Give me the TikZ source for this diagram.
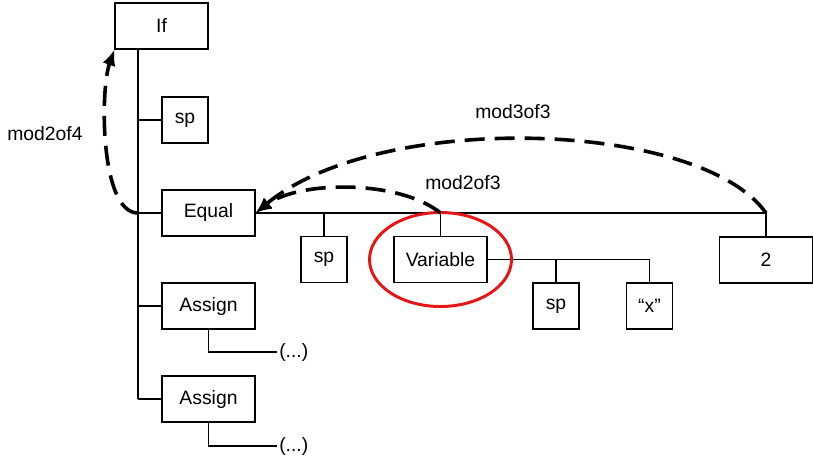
\documentclass[tikz,border=0pt]{standalone}
\usepackage{fontspec}
\setmainfont{Liberation Sans}
\usepackage{tikz}
\usepackage{xcolor}
\usetikzlibrary{arrows.meta,calc}
\definecolor{markred}{RGB}{230,20,20}

\tikzset{
  bigbox/.style={draw,line width=0.8pt,inner sep=0pt,minimum width=69.75pt,minimum height=34.5pt},
  smallbox/.style={draw,line width=0.8pt,inner sep=0pt,minimum width=34.5pt,minimum height=34.5pt},
  treeline/.style={line width=1.3pt},
  modarrow/.style={line width=2.7pt,dash pattern=on 15pt off 7.5pt,-{Latex[length=12pt,width=10pt]}},
  dots/.style={anchor=west,inner sep=1.5pt}
}

\begin{document}
\begin{tikzpicture}[x=0.75pt,y=-0.75pt,font=\fontsize{14.5}{17}\selectfont]
    \useasboundingbox (0,0) rectangle (813,456);

    % Nodes of the tree
    \node[bigbox] (ifnode) at (161.5,26) {If};
    \node[smallbox] (sp1) at (185,120) {sp};
    \node[bigbox] (equal) at (208.5,213) {Equal};
    \node[bigbox] (assign1) at (208.5,306) {Assign};
    \node[bigbox] (assign2) at (208.5,399) {Assign};
    \node[smallbox] (sp2) at (324,259.5) {sp};
    \node[bigbox] (variable) at (440.5,259.5) {Variable};
    \node[smallbox] (sp3) at (556,306) {sp};
    \node[smallbox] (strx) at (649.5,306) {``x''};
    \node[bigbox] (two) at (766,260) {2};
    \node[dots] (dots1) at (277,352) {(...)};
    \node[dots] (dots2) at (277,446) {(...)};

    % Trunk and branches
    \coordinate (trunktop) at (138,49);
    \coordinate (trunkbot) at (138,399);
    \draw[treeline] (trunktop) -- (trunkbot);
    \draw[treeline] (sp1.west -| trunktop) -- (sp1.west);
    \draw[treeline] (equal.west -| trunktop) -- (equal.west);
    \draw[treeline] (assign1.west -| trunktop) -- (assign1.west);
    \draw[treeline] (assign2.west -| trunktop) -- (assign2.west);
    \draw[treeline] (equal.east) -| (two.north);
    \draw[treeline] (sp2.north) -- (sp2.north |- equal.east);
    \draw[treeline] (variable.north) -- (variable.north |- equal.east);
    \draw[treeline] (variable.east) -| (strx.north);
    \draw[treeline] (sp3.north) -- (sp3.north |- variable.east);
    \draw[treeline] (assign1.south) |- (dots1.west);
    \draw[treeline] (assign2.south) |- (dots2.west);

    % Highlight
    \draw[markred,line width=2.2pt] (variable) ellipse [x radius=71, y radius=47];

    % Modification arrows
    \coordinate (fromequal) at (equal.west -| trunktop);
    \coordinate (fromvar) at (variable.north |- equal.east);
    \coordinate (fromtwo) at (two.north |- equal.east);
    \draw[modarrow] (fromequal) .. controls (100,213) and (100,90) .. (ifnode.south west);
    \draw[modarrow] (fromvar) .. controls (400,180) and (300,180) .. (equal.east);
    \draw[modarrow] (fromtwo) .. controls (700,120) and (380,110) .. (equal.east);
    \node (lab2of4) at (45,134) {mod2of4};
    \node (lab2of3) at (463,183) {mod2of3};
    \node (lab3of3) at (513,112) {mod3of3};
\end{tikzpicture}
\end{document}
